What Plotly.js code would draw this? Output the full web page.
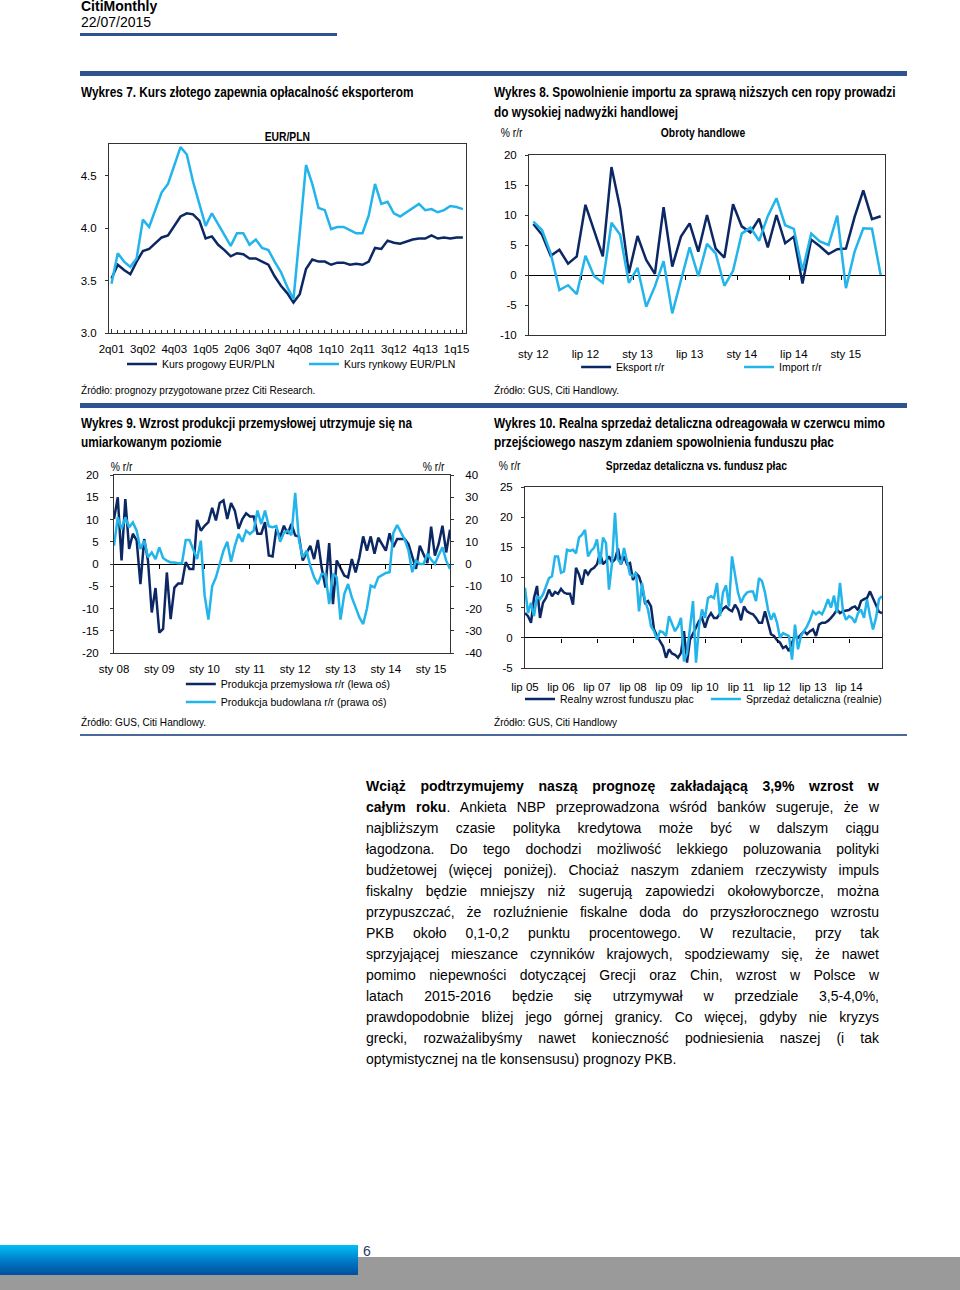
<!DOCTYPE html>
<html><head><meta charset="utf-8">
<script src="https://cdn.plot.ly/plotly-3.0.1.min.js"></script>
<style>
html,body{margin:0;padding:0;background:#fff}
body{width:960px;height:1290px;position:relative;overflow:hidden;font-family:'Liberation Sans',Arial,sans-serif;color:#000}
.a{position:absolute;white-space:nowrap}
.hd{font-weight:bold;font-size:14px;line-height:20px;transform:scaleX(0.845);transform-origin:0 0}
.src{font-size:11px;line-height:14px;transform:scaleX(0.915);transform-origin:0 0}
.rule{position:absolute;background:#2f5290}
.body{position:absolute;left:366px;top:776px;width:513px;font-size:14px;line-height:21px}
.body div{text-align:justify;text-align-last:justify;white-space:nowrap}
.body div.last{text-align:left;text-align-last:left}
.chart{position:absolute}
</style>
</head><body>

<div class="a" style="left:81px;top:-2px;font-weight:bold;font-size:14px;line-height:16px">CitiMonthly</div>
<div class="a" style="left:81px;top:14px;font-size:14px;line-height:16px">22/07/2015</div>
<div class="rule" style="left:80px;top:33px;width:257px;height:3px"></div>
<div class="rule" style="left:80px;top:71px;width:827px;height:5px"></div>

<div class="a hd" style="left:81px;top:82px">Wykres 7. Kurs złotego zapewnia opłacalność eksporterom</div>
<div class="a hd" style="left:494px;top:82px">Wykres 8. Spowolnienie importu za sprawą niższych cen ropy prowadzi<br>do wysokiej nadwyżki handlowej</div>

<div id="c7" class="chart" style="left:75px;top:125px;width:400px;height:255px"></div>
<div id="c8" class="chart" style="left:490px;top:125px;width:420px;height:255px"></div>

<div class="a src" style="left:81px;top:383px">Źródło: prognozy przygotowane przez Citi Research.</div>
<div class="a src" style="left:494px;top:383px">Źródło: GUS, Citi Handlowy.</div>

<div class="rule" style="left:80px;top:403px;width:827px;height:5px"></div>

<div class="a hd" style="left:81px;top:414px;line-height:19px">Wykres 9. Wzrost produkcji przemysłowej utrzymuje się na<br>umiarkowanym poziomie</div>
<div class="a hd" style="left:494px;top:414px;line-height:19px">Wykres 10. Realna sprzedaż detaliczna odreagowała w czerwcu mimo<br>przejściowego naszym zdaniem spowolnienia funduszu płac</div>

<div id="c9" class="chart" style="left:75px;top:455px;width:420px;height:260px"></div>
<div id="c10" class="chart" style="left:490px;top:455px;width:420px;height:260px"></div>

<div class="a src" style="left:81px;top:715px">Źródło: GUS, Citi Handlowy.</div>
<div class="a src" style="left:494px;top:715px">Źródło: GUS, Citi Handlowy</div>

<div class="rule" style="left:80px;top:734px;width:827px;height:2px;background:#4a6898"></div>

<div class="body">
<div><b>Wciąż podtrzymujemy naszą prognozę zakładającą 3,9% wzrost w</b></div>
<div><b>całym roku</b>. Ankieta NBP przeprowadzona wśród banków sugeruje, że w</div>
<div>najbliższym czasie polityka kredytowa może być w dalszym ciągu</div>
<div>łagodzona. Do tego dochodzi możliwość lekkiego poluzowania polityki</div>
<div>budżetowej (więcej poniżej). Chociaż naszym zdaniem rzeczywisty impuls</div>
<div>fiskalny będzie mniejszy niż sugerują zapowiedzi okołowyborcze, można</div>
<div>przypuszczać, że rozluźnienie fiskalne doda do przyszłorocznego wzrostu</div>
<div>PKB około 0,1-0,2 punktu procentowego. W rezultacie, przy tak</div>
<div>sprzyjającej mieszance czynników krajowych, spodziewamy się, że nawet</div>
<div>pomimo niepewności dotyczącej Grecji oraz Chin, wzrost w Polsce w</div>
<div>latach 2015-2016 będzie się utrzymywał w przedziale 3,5-4,0%,</div>
<div>prawdopodobnie bliżej jego górnej granicy. Co więcej, gdyby nie kryzys</div>
<div>grecki, rozważalibyśmy nawet konieczność podniesienia naszej (i tak</div>
<div class="last">optymistycznej na tle konsensusu) prognozy PKB.</div>
</div>

<div style="position:absolute;left:0;top:1257px;width:960px;height:33px;background:#9a9a9a"></div>
<div style="position:absolute;left:0;top:1245px;width:358px;height:30px;background:linear-gradient(#00c0f5,#0072c0 60%,#00509a)"></div>
<div class="a" style="left:363px;top:1243px;font-size:14px;line-height:16px;color:#1f3d6e">6</div>

<script>
// ---------------- DATA ----------------
// Wykres 7: quarterly EUR/PLN, 2q01 .. 2q15
var q7Start = {q: 2, year: 2001};
var kursProgowy = [3.52,3.65,3.60,3.56,3.68,3.78,3.80,3.86,3.91,3.93,
  4.02,4.11,4.14,4.13,4.07,3.90,3.92,3.84,3.79,3.73,
  3.76,3.75,3.71,3.71,3.68,3.65,3.54,3.45,3.38,3.29,
  3.37,3.61,3.70,3.68,3.68,3.65,3.67,3.67,3.65,3.66,
  3.65,3.68,3.81,3.80,3.88,3.86,3.85,3.87,3.89,3.90,
  3.90,3.93,3.90,3.91,3.90,3.91,3.91];
var kursRynkowy = [3.47,3.76,3.68,3.63,3.71,4.08,4.01,4.18,4.34,4.42,
  4.59,4.77,4.70,4.44,4.23,4.02,4.14,4.04,3.93,3.83,
  3.95,3.95,3.84,3.89,3.81,3.79,3.68,3.58,3.44,3.32,
  3.95,4.60,4.42,4.19,4.17,3.99,4.01,4.01,3.98,3.95,
  3.95,4.12,4.42,4.23,4.25,4.14,4.11,4.15,4.19,4.23,
  4.17,4.18,4.15,4.17,4.21,4.20,4.18];
var ticks7 = ['2q01','3q02','4q03','1q05','2q06','3q07','4q08','1q10','2q11','3q12','4q13','1q15'];
var yTicks7 = [3.0, 3.5, 4.0, 4.5];

// Wykres 8: monthly, sty 12 .. maj 15 (% r/r)
var m8Start = {month: 1, year: 2012};
var eksport = [8.5,6.7,3.2,4.2,1.9,3.1,11.7,7.5,3.1,18.0,
  11.1,0.3,6.5,2.5,0.2,11.3,1.4,6.4,8.6,3.9,
  10.0,4.4,2.9,11.8,8.1,7.1,9.4,4.6,10.0,5.3,
  6.4,-1.4,5.9,4.8,3.5,4.3,4.4,9.7,14.1,9.3,9.8];
var importRR = [8.9,7.5,3.6,-2.5,-1.7,-3.2,3.2,-0.2,-1.3,8.7,
  6.7,-1.3,1.2,-5.3,-1.9,2.3,-6.4,-0.8,4.6,-0.2,
  5.2,3.6,-1.8,0.7,6.9,7.9,5.7,9.8,12.8,8.3,
  7.7,0.7,6.9,5.6,5.0,9.9,-2.2,3.9,7.8,7.7,0.0];
var ticks8 = ['sty 12','lip 12','sty 13','lip 13','sty 14','lip 14','sty 15'];
var yTicks8 = [-10, -5, 0, 5, 10, 15, 20];

// Wykres 9: monthly, sty 08 .. cze 15 (% r/r)
var m9Start = {month: 1, year: 2008};
var prodPrzem = [10.1,15.0,0.8,14.6,3.4,6.8,5.3,-4.5,5.6,0.8,
  -10.9,-5.4,-15.4,-14.6,-1.9,-12.4,-5.3,-4.4,-4.4,0.4,
  -1.1,-1.1,9.9,7.5,8.6,9.4,12.6,9.8,13.7,14.3,
  10.1,13.7,12.0,7.9,10.1,11.4,10.7,10.7,6.8,6.8,
  9.4,1.9,1.7,7.9,6.0,8.6,6.8,9.0,6.4,6.2,
  0.8,2.4,4.1,1.1,5.4,-0.8,-5.3,4.7,-9.0,0.8,
  -0.9,-2.6,-3.0,1.1,-1.9,1.5,6.2,3.0,6.2,2.3,
  5.9,4.5,3.0,6.9,3.8,5.6,5.6,5.6,4.5,1.4,
  -1.1,4.1,2.1,0.2,8.4,1.9,4.5,8.6,2.6,7.7];
var prodBud = [8.2,21,15.7,21,16.5,18.7,15,6.7,10.5,3.0,
  5.2,2.2,7.5,2.7,1.5,0.7,0.7,0.3,0.3,10.8,
  10.8,6,2.2,10.5,-14,-25,-10,-6,0,6,
  10,1,8,13.5,10,15,13.5,15,24,18,
  24,17,16.5,17,10,14,15,13,32,10.5,
  3,6,-1,-6,-9,-4.5,-4.5,-18,-4.5,-6,
  -25,-13.5,-9,-15,-19.5,-24,-27,-20,-9.7,-10.5,
  -6,-5,-4,-3.7,14,17.5,14,11,6,-3.7,
  1.5,0,0,4.5,2,0,4,7.5,1.5,-2.2];
var ticks9 = ['sty 08','sty 09','sty 10','sty 11','sty 12','sty 13','sty 14','sty 15'];
var yTicks9L = [-20, -15, -10, -5, 0, 5, 10, 15, 20];
var yTicks9R = [-40, -30, -20, -10, 0, 10, 20, 30, 40];

// Wykres 10: monthly, lip 05 .. cze 15 (% r/r)
var m10Start = {month: 7, year: 2005};
var funduszPlac = [4.1,3.6,2.5,6.6,8.6,3.3,5.8,6.6,8.0,6.9,
  7.6,7.3,8.1,7.5,7.3,7.3,5.5,11.6,10.5,8.8,
  11.3,10.5,11.3,11.6,12.2,14.1,12.2,12.7,13.5,12.5,
  13.0,14.8,12.2,13.5,12.2,12.4,9.6,10.7,10.2,8.6,
  5.8,6.1,5.2,1.4,0.3,-0.6,-1.4,-3.3,-1.9,-2.6,
  -2.8,-3.3,-2.5,1.1,-4.1,-0.3,0.6,1.7,2.8,3.3,
  1.7,3.3,4.1,3.3,3.3,4.1,4.8,5.2,4.7,4.4,
  5.5,4.7,2.9,5.2,4.4,4.1,3.9,3.3,2.5,2.5,
  4.4,2.5,0.6,0.3,-0.4,-0.8,-1.7,-1.4,-2.2,-0.8,
  0.3,0,0.6,1.1,0.6,1.1,1.4,0.3,2.2,2.5,
  2.5,2.8,3.3,3.9,4.7,4.1,4.4,4.5,4.6,5.0,
  5.2,4.6,6.1,6.4,6.6,7.7,6.6,5.5,4.3,4.1];
var sprzedaz = [8.3,4.1,5.8,3.6,6.9,6.4,7.2,8.6,9.9,10.2,
  13.5,13.5,10.8,11.0,14.6,14.4,14.6,14.0,16.6,17.1,
  17.9,13.5,14.4,14.9,16.3,12.2,16.6,15.7,8.0,12.4,
  20.7,13.0,12.2,14.9,12.4,10.5,10.2,10.8,4.4,9.1,
  6.1,4.7,1.9,1.1,-0.3,1.1,0.9,0.3,3.6,2.5,
  1.1,1.9,3.3,-3.9,-2.6,1.7,6.1,-4.1,1.9,4.7,
  3.3,6.6,6.9,6.6,9.1,3.6,7.5,8.7,5.2,13.5,
  10.2,7.5,5.8,6.9,7.5,7.7,7.7,6.1,9.9,9.4,
  7.5,4.7,3.0,4.1,2.5,0.0,0.8,0.6,0.3,-3.6,
  2.2,-1.9,0.3,1.1,1.9,3.0,4.4,3.9,4.3,3.9,
  5.0,6.4,5.0,7.0,4.1,9.1,4.4,3.0,3.6,3.3,
  2.5,4.1,4.7,3.3,6.4,3.6,1.4,3.3,6.4,6.9];
var ticks10 = ['lip 05','lip 06','lip 07','lip 08','lip 09','lip 10','lip 11','lip 12','lip 13','lip 14'];
var yTicks10 = [-5, 0, 5, 10, 15, 20, 25];

// ---------------- HELPERS ----------------
var PL = ['sty','lut','mar','kwi','maj','cze','lip','sie','wrz','paź','lis','gru'];
function monthCats(start, n){
  var out=[], m=start.month-1, y=start.year;
  for (var i=0;i<n;i++){ out.push(PL[m]+' '+String(y%100).padStart(2,'0')); m++; if(m>11){m=0;y++;} }
  return out;
}
function quarterCats(start, n){
  var out=[], q=start.q, y=start.year;
  for (var i=0;i<n;i++){ out.push(q+'q'+String(y%100).padStart(2,'0')); q++; if(q>4){q=1;y++;} }
  return out;
}
function idx(arr){ return arr.map(function(_,i){return i;}); }
function pos(cats, labels){ return labels.map(function(l){return cats.indexOf(l);}); }

var DARK = '#0b2864', LIGHT = '#22b4ea';
var FAM = "'Liberation Sans',Arial,sans-serif";
var FONT = {family: FAM, size: 11.5, color: '#000'};
var LFONT = {family: FAM, size: 10.5, color: '#000'};
var BOX = '#333';
var cfg = {staticPlot: true, displayModeBar: false};

function lineTrace(x, y, name, color, extra){
  var t = {x: x, y: y, name: name, type: 'scatter', mode: 'lines',
    line: {color: color, width: 2.5}, hoverinfo: 'skip'};
  for (var k in extra) t[k] = extra[k];
  return t;
}
function dummyX2(){ return {x: [null], y: [null], xaxis: 'x2', yaxis: 'y', showlegend: false, hoverinfo: 'skip', type: 'scatter'}; }
function zeroTicks(range, tickvals, p){
  return {overlaying: 'x', anchor: 'free', position: p, range: range, tickmode: 'array',
    tickvals: tickvals, ticks: 'outside', ticklen: 4, tickcolor: '#000', tickwidth: 1,
    showticklabels: false, showline: false, showgrid: false, zeroline: false};
}
function yAxis(range, vals, extra){
  var a = {range: range, tickmode: 'array', tickvals: vals, ticktext: vals.map(function(v){return String(v);}),
    ticks: 'outside', ticklen: 3, tickcolor: BOX, showline: true, mirror: true, linecolor: BOX,
    showgrid: false, zeroline: false, ticklabelstandoff: 6};
  for (var k in extra) a[k] = extra[k];
  return a;
}
function leg(x, y){
  return {orientation: 'h', xref: 'container', yref: 'container', x: x, y: y,
    xanchor: 'left', yanchor: 'middle', font: LFONT, bgcolor: 'rgba(0,0,0,0)', borderwidth: 0};
}
// narrow (Arial Narrow-like) rendering of chart titles
function squeeze(id, f){
  var nodes = document.querySelectorAll('#' + id + ' text.annotation-text');
  nodes.forEach(function(t){
    if (t.getAttribute('data-sq')) return;
    var w = t.getComputedTextLength();
    if (w > 0){
      t.setAttribute('textLength', (w * f).toFixed(1));
      t.setAttribute('lengthAdjust', 'spacingAndGlyphs');
      t.setAttribute('data-sq', '1');
    }
  });
}
function draw(id, data, layout, f){
  Plotly.newPlot(id, data, layout, cfg).then(function(){ squeeze(id, f); });
}

// ---------------- WYKRES 7 ----------------
(function(){
  var cats = quarterCats(q7Start, kursProgowy.length);
  var x = idx(cats);
  var data = [
    lineTrace(x, kursProgowy, 'Kurs progowy EUR/PLN', DARK),
    lineTrace(x, kursRynkowy, 'Kurs rynkowy EUR/PLN', LIGHT, {legend: 'legend2'})
  ];
  var yv = yTicks7;
  var layout = {
    width: 400, height: 255, margin: {l: 34, r: 9, t: 19, b: 47, autoexpand: false},
    paper_bgcolor: '#fff', plot_bgcolor: '#fff', font: FONT, showlegend: true,
    xaxis: {range: [-0.4, 56.5], tickmode: 'array', tickvals: pos(cats, ticks7), ticktext: ticks7,
      ticks: 'inside', ticklen: 4, tickcolor: BOX, showline: true, mirror: true, linecolor: BOX,
      showgrid: false, zeroline: false, ticklabelstandoff: 5,
      minor: {tickmode: 'linear', tick0: 0, dtick: 1, ticks: 'inside', ticklen: 3, tickcolor: BOX}},
    yaxis: yAxis([3.0, 4.8], yv, {ticktext: yv.map(function(v){return v.toFixed(1);})}),
    legend: leg(0.1175, 0.063),
    legend2: leg(0.5725, 0.063),
    annotations: [{text: '<b>EUR/PLN</b>', xref: 'paper', yref: 'paper', x: 0.5, y: 1,
      yanchor: 'bottom', showarrow: false, font: {family: FAM, size: 12}, yshift: -2}]
  };
  draw('c7', data, layout, 0.86);
})();

// ---------------- WYKRES 8 ----------------
(function(){
  var cats = monthCats(m8Start, eksport.length);
  var x = idx(cats);
  var range = [-0.5, cats.length - 0.5];
  var bounds = [5.5, 11.5, 17.5, 23.5, 29.5, 35.5];
  var data = [
    lineTrace(x, eksport, 'Eksport r/r', DARK),
    lineTrace(x, importRR, 'Import r/r', LIGHT, {legend: 'legend2'}),
    dummyX2()
  ];
  var layout = {
    width: 420, height: 255, margin: {l: 39, r: 25, t: 30, b: 45, autoexpand: false},
    paper_bgcolor: '#fff', plot_bgcolor: '#fff', font: FONT, showlegend: true,
    xaxis: {range: range, tickmode: 'array', tickvals: pos(cats, ticks8), ticktext: ticks8,
      ticks: '', showline: true, mirror: true, linecolor: BOX, showgrid: false, zeroline: false,
      ticklabelstandoff: 8},
    xaxis2: zeroTicks(range, bounds, 1/3),
    yaxis: yAxis([-10, 20], yTicks8, {zeroline: true, zerolinecolor: '#000', zerolinewidth: 1}),
    legend: leg(0.205, 0.051),
    legend2: leg(0.593, 0.051),
    annotations: [
      {text: '<b>Obroty handlowe</b>', xref: 'paper', yref: 'paper', x: 0.49, y: 1.122,
       yanchor: 'middle', showarrow: false, font: {family: FAM, size: 12}},
      {text: '% r/r', xref: 'paper', yref: 'paper', x: -0.09, y: 1.122, xanchor: 'left',
       yanchor: 'middle', showarrow: false, font: {family: FAM, size: 12}}
    ]
  };
  draw('c8', data, layout, 0.86);
})();

// ---------------- WYKRES 9 ----------------
(function(){
  var cats = monthCats(m9Start, prodPrzem.length);
  var x = idx(cats);
  var range = [0, cats.length - 1];
  var tv = pos(cats, ticks9);
  var data = [
    lineTrace(x, prodPrzem, 'Produkcja przemysłowa r/r (lewa oś)', DARK),
    lineTrace(x, prodBud, 'Produkcja budowlana r/r (prawa oś)', LIGHT, {yaxis: 'y2', legend: 'legend2'}),
    dummyX2()
  ];
  var layout = {
    width: 420, height: 260, margin: {l: 39, r: 45, t: 20, b: 62, autoexpand: false},
    paper_bgcolor: '#fff', plot_bgcolor: '#fff', font: FONT, showlegend: true,
    xaxis: {range: range, tickmode: 'array', tickvals: tv, ticktext: ticks9,
      ticks: '', showline: true, mirror: true, linecolor: BOX, showgrid: false, zeroline: false,
      ticklabelstandoff: 5},
    xaxis2: zeroTicks(range, tv.slice(1), 0.5),
    yaxis: yAxis([-20, 20], yTicks9L, {mirror: false, zeroline: true, zerolinecolor: '#000', zerolinewidth: 1, ticklabelstandoff: 9}),
    yaxis2: yAxis([-40, 40], yTicks9R, {mirror: false, overlaying: 'y', side: 'right', ticklabelstandoff: 9}),
    legend: leg(0.252, 0.119),
    legend2: leg(0.252, 0.05),
    annotations: [
      {text: '% r/r', xref: 'paper', yref: 'paper', x: -0.02, y: 1.045, xanchor: 'left',
       yanchor: 'middle', showarrow: false, font: {family: FAM, size: 12}},
      {text: '% r/r', xref: 'paper', yref: 'paper', x: 0.995, y: 1.045, xanchor: 'right',
       yanchor: 'middle', showarrow: false, font: {family: FAM, size: 12}}
    ]
  };
  draw('c9', data, layout, 0.86);
})();

// ---------------- WYKRES 10 ----------------
(function(){
  var cats = monthCats(m10Start, funduszPlac.length);
  var x = idx(cats);
  var range = [0, cats.length - 1];
  var tv = pos(cats, ticks10);
  var data = [
    lineTrace(x, funduszPlac, 'Realny wzrost funduszu płac', DARK),
    lineTrace(x, sprzedaz, 'Sprzedaż detaliczna (realnie)', LIGHT, {legend: 'legend2'}),
    dummyX2()
  ];
  var layout = {
    width: 420, height: 260, margin: {l: 35, r: 28, t: 32, b: 47, autoexpand: false},
    paper_bgcolor: '#fff', plot_bgcolor: '#fff', font: FONT, showlegend: true,
    xaxis: {range: range, tickmode: 'array', tickvals: tv, ticktext: ticks10,
      ticks: '', showline: true, mirror: true, linecolor: BOX, showgrid: false, zeroline: false,
      ticklabelstandoff: 8},
    xaxis2: zeroTicks(range, tv.slice(1), 1/6),
    yaxis: yAxis([-5, 25], yTicks10, {zeroline: true, zerolinecolor: '#000', zerolinewidth: 1}),
    legend: leg(0.0714, 0.0615),
    legend2: leg(0.514, 0.0615),
    annotations: [
      {text: '<b>Sprzedaz detaliczna vs. fundusz płac</b>', xref: 'paper', yref: 'paper', x: 0.48, y: 1.115,
       yanchor: 'middle', showarrow: false, font: {family: FAM, size: 12}},
      {text: '% r/r', xref: 'paper', yref: 'paper', x: -0.085, y: 1.115, xanchor: 'left',
       yanchor: 'middle', showarrow: false, font: {family: FAM, size: 12}}
    ]
  };
  draw('c10', data, layout, 0.86);
})();
</script>
</body></html>
